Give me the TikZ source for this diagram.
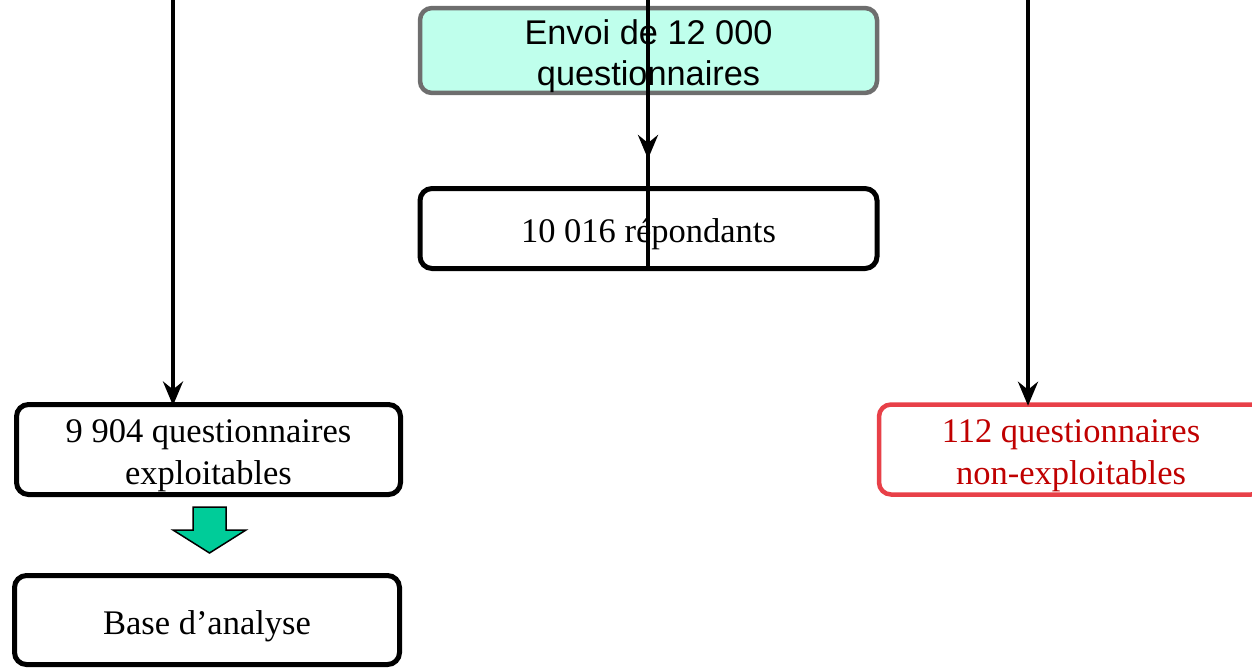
\documentclass[tikz,border=0pt]{standalone}
\usepackage{fontspec}
\setmainfont{Liberation Serif}
\newfontfamily\arialfont{Liberation Sans}
\usetikzlibrary{arrows.meta}
\definecolor{topfill}{RGB}{191,255,236}
\definecolor{topborder}{RGB}{110,110,110}
\definecolor{redborder}{RGB}{232,64,72}
\definecolor{redtext}{RGB}{192,0,0}
\definecolor{greenarrow}{RGB}{0,204,153}
\newcommand{\padtop}[1]{\raisebox{0pt}[\dimexpr\height+12pt\relax]{#1}}
\tikzset{
  box/.style={draw=black, line width=5pt, rounded corners=12pt, fill=white,
    align=center, inner sep=0pt, font=\fontsize{34.5}{41.5}\selectfont},
  topbox/.style={box, draw=topborder, line width=4.5pt, fill=topfill,
    font=\arialfont\fontsize{34.3}{41}\selectfont},
  redbox/.style={box, draw=redborder, line width=4.5pt, text=redtext},
  conn/.style={line width=4pt, -{Stealth[length=24pt,width=20pt,inset=8pt]}},
  plainline/.style={line width=4pt},
  blockarrow/.style={draw=black, line width=1.5pt, fill=greenarrow, line join=miter}
}
\begin{document}
\begin{tikzpicture}[x=1pt,y=-1pt]
\useasboundingbox (0,0) rectangle (1252,669);
\clip (0,0) rectangle (1252,669);
\node[topbox, minimum width=457pt, minimum height=81pt] (envoi) at (648.5,50.5) {\padtop{Envoi de 12 000}\\questionnaires};
\node[box, minimum width=457pt, minimum height=80pt] (rep) at (648.5,228.5) {\padtop{10 016 répondants}};
\node[box, minimum width=384pt, minimum height=90pt] (expl) at (208.5,449.5) {\padtop{9 904 questionnaires}\\exploitables};
\node[redbox, minimum width=384pt, minimum height=90pt] (nonexpl) at (1071,449.5) {\padtop{112 questionnaires}\\non-exploitables};
\node[box, minimum width=385pt, minimum height=89pt] (base) at (207,620) {\padtop{Base d’analyse}};
% block arrow between expl and base
\draw[blockarrow] (193,507) -- (226,507) -- (226,530) -- (246,530) -- (209.5,553) -- (173,530) -- (193,530) -- cycle;
% connectors from above
\coordinate (ltop) at (173,0);
\coordinate (rtop) at (1028,0);
\coordinate (mtop) at (648,0);
\coordinate (mtip) at (648,159);
\draw[plainline] (mtop) -- (rep.south -| mtop);
\draw[conn] (mtop) -- (mtip);
\draw[conn, shorten >=-3.5pt] (ltop) -- (expl.north -| ltop);
\draw[conn, shorten >=-3.5pt] (rtop) -- (nonexpl.north -| rtop);
\end{tikzpicture}
\end{document}
